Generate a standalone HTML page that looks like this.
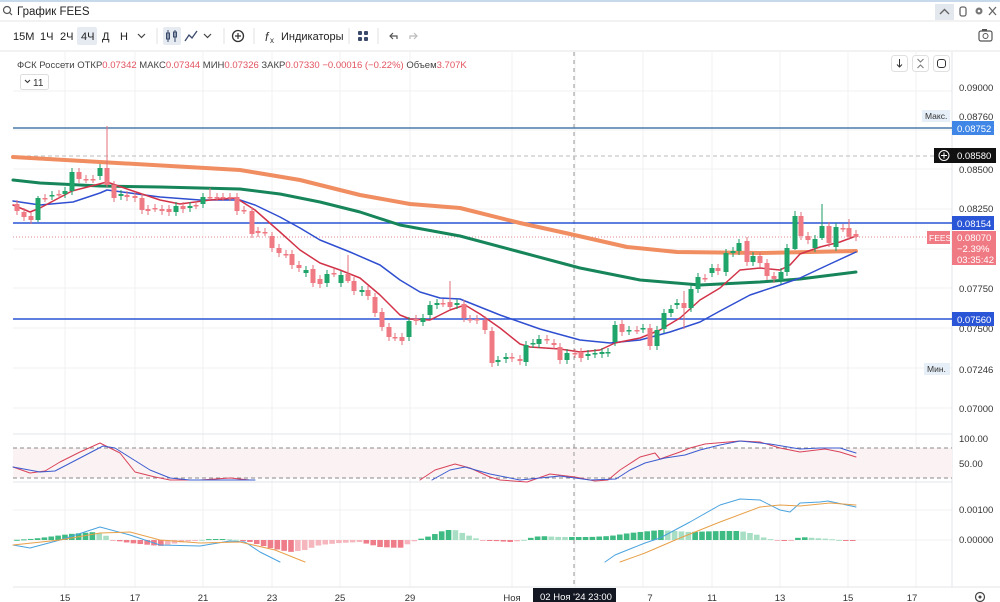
<!DOCTYPE html>
<html><head><meta charset="utf-8">
<style>
body{margin:0;width:1000px;height:602px;overflow:hidden;background:#fff;font-family:"Liberation Sans","DejaVu Sans",sans-serif;}
svg{position:absolute;left:0;top:0}
</style></head><body>
<svg id="s" width="1000" height="602" viewBox="0 0 1000 602" xmlns="http://www.w3.org/2000/svg" font-family="Liberation Sans, DejaVu Sans, sans-serif">
<rect width="1000" height="602" fill="#fff"/>
<rect x="0" y="0" width="1000" height="2" fill="#c9d9ec"/>
<line x1="0" y1="21" x2="1000" y2="21" stroke="#e6e6e6"/>
<circle cx="7" cy="10" r="3.5" fill="none" stroke="#555" stroke-width="1.2"/><line x1="9.5" y1="12.5" x2="12" y2="15" stroke="#555" stroke-width="1.2"/>
<text x="17" y="15" font-size="11.5" fill="#222">График FEES</text>
<rect x="935" y="4" width="19" height="16" fill="#e3e8ef"/>
<path d="M940 14 L944.5 9.5 L949 14" fill="none" stroke="#666" stroke-width="1.4"/>
<rect x="960" y="7" width="6" height="9" rx="2" fill="none" stroke="#666" stroke-width="1.3"/>
<circle cx="979" cy="11" r="3.5" fill="#777"/><circle cx="979" cy="11" r="1.3" fill="#fff"/>
<path d="M989 7 L996 15 M996 7 L989 15" stroke="#666" stroke-width="1.3"/>
<line x1="0" y1="51" x2="1000" y2="51" stroke="#e6e6e6"/>
<text x="13" y="40" font-size="11" fill="#222">15М</text>
<text x="40" y="40" font-size="11" fill="#222">1Ч</text>
<text x="60" y="40" font-size="11" fill="#222">2Ч</text>
<rect x="77" y="27" width="20" height="18" rx="2" fill="#e6ebf2"/>
<text x="81" y="40" font-size="11" fill="#222">4Ч</text>
<text x="102" y="40" font-size="11" fill="#222">Д</text>
<text x="120" y="40" font-size="11" fill="#222">Н</text>
<path d="M138 34 L141.5 37.5 L145 34" fill="none" stroke="#444" stroke-width="1.2"/>
<line x1="157" y1="28" x2="157" y2="44" stroke="#e2e2e2"/>
<rect x="163" y="27" width="18" height="18" rx="2" fill="#e6ebf2"/>
<path d="M168 30v12M175 30v12" stroke="#3a4a6a" stroke-width="1"/><rect x="166.5" y="33" width="3" height="6" fill="none" stroke="#3a4a6a"/><rect x="173.5" y="32" width="3" height="5" fill="none" stroke="#3a4a6a"/>
<path d="M185 41 L189 35 L192 38 L197 31" fill="none" stroke="#3a4a6a" stroke-width="1.3"/>
<path d="M204 34 L207.5 37.5 L211 34" fill="none" stroke="#444" stroke-width="1.2"/>
<line x1="224" y1="28" x2="224" y2="44" stroke="#e2e2e2"/>
<circle cx="238" cy="36" r="5.5" fill="none" stroke="#333" stroke-width="1.3"/><path d="M238 33v6M235 36h6" stroke="#333" stroke-width="1.2"/>
<line x1="254" y1="28" x2="254" y2="44" stroke="#e2e2e2"/>
<text x="265" y="41" font-size="12" font-style="italic" fill="#333">f</text><text x="270" y="43" font-size="8" fill="#333">x</text>
<text x="281" y="40" font-size="11" fill="#222">Индикаторы</text>
<line x1="349" y1="28" x2="349" y2="44" stroke="#e2e2e2"/>
<rect x="358" y="31" width="4" height="4" rx="1" fill="#3a4a6a"/><rect x="364" y="31" width="4" height="4" rx="1" fill="#3a4a6a"/><rect x="358" y="37" width="4" height="4" rx="1" fill="#3a4a6a"/><rect x="364" y="37" width="4" height="4" rx="1" fill="#3a4a6a"/>
<line x1="378" y1="28" x2="378" y2="44" stroke="#e2e2e2"/>
<path d="M397 39 V36 H390 M393 33 L390 36 L393 39" fill="none" stroke="#555" stroke-width="1.2"/>
<path d="M410 39 V36 H417 M414 33 L417 36 L414 39" fill="none" stroke="#bbb" stroke-width="1.2"/>
<rect x="979" y="31" width="13" height="10" rx="2" fill="none" stroke="#555" stroke-width="1.2"/><circle cx="985.5" cy="36" r="2.5" fill="none" stroke="#555"/><rect x="982" y="29" width="5" height="2" fill="#555"/>

<g id="grid" stroke="#f0f1f3" stroke-width="1"></g>
<line x1="13" y1="434" x2="952" y2="434" stroke="#e2e4e8"/>
<line x1="13" y1="482" x2="952" y2="482" stroke="#e2e4e8"/>
<line x1="13" y1="587" x2="1000" y2="587" stroke="#e2e4e8"/>
<line x1="952" y1="52" x2="952" y2="587" stroke="#e2e4e8"/>
<rect x="13" y="448" width="939" height="30" fill="#fbf3f3"/>
<line x1="13" y1="448" x2="952" y2="448" stroke="#888" stroke-dasharray="4,3"/>
<line x1="13" y1="478" x2="952" y2="478" stroke="#888" stroke-dasharray="4,3"/>
<line x1="574" y1="52" x2="574" y2="587" stroke="#999" stroke-dasharray="4,4"/>
<line x1="13" y1="128" x2="952" y2="128" stroke="#4a7bab" stroke-width="1.6"/>
<line x1="13" y1="156" x2="952" y2="156" stroke="#bbb" stroke-dasharray="4,3"/>
<line x1="13" y1="223" x2="952" y2="223" stroke="#2a55d6" stroke-width="1.6"/>
<line x1="13" y1="237" x2="952" y2="237" stroke="#e58a94" stroke-dasharray="1,2"/>
<line x1="13" y1="319" x2="952" y2="319" stroke="#2a55d6" stroke-width="1.6"/>
<g id="ma"></g>
<g id="candles"></g>
<g id="ind"></g>
<text x="17" y="68" font-size="9.5" fill="#444">ФСК Россети ОТКР<tspan fill="#e2535f">0.07342</tspan>  МАКС<tspan fill="#e2535f">0.07344</tspan>  МИН<tspan fill="#e2535f">0.07326</tspan>  ЗАКР<tspan fill="#e2535f">0.07330</tspan>  <tspan fill="#e2535f">−0.00016 (−0.22%)</tspan>  Объем<tspan fill="#e2535f">3.707K</tspan></text>
<rect x="20.5" y="74.5" width="28" height="15" rx="2" fill="#fff" stroke="#ddd"/>
<path d="M25 80 L27.5 82.5 L30 80" fill="none" stroke="#333" stroke-width="1.1"/>
<text x="33" y="86" font-size="10" fill="#333">11</text>
<g fill="#fff" stroke="#e0e0e0"><rect x="891.5" y="55.5" width="16" height="16" rx="3"/><rect x="912.5" y="55.5" width="16" height="16" rx="3"/><rect x="933.5" y="55.5" width="16" height="16" rx="3"/></g>
<path d="M899.5 59v8M897 64.5l2.5 2.5 2.5-2.5" fill="none" stroke="#333"/>
<path d="M917.5 59l3 3 3-3M917.5 68l3-3 3 3" fill="none" stroke="#777"/>
<rect x="937.5" y="59.5" width="8" height="8" rx="2.5" fill="none" stroke="#333"/>
<g font-size="9.5" fill="#333">
<text x="959" y="91">0.09000</text>
<text x="959" y="173">0.08500</text>
<text x="959" y="212">0.08250</text>
<text x="959" y="292">0.07750</text>
<text x="959" y="332">0.07500</text>
<text x="959" y="412">0.07000</text>
<text x="959" y="442">100.00</text>
<text x="959" y="467">50.00</text>
<text x="959" y="513">0.00100</text>
<text x="959" y="543">0.00000</text>
</g>
<rect x="922" y="110" width="28" height="12" fill="#e6eef8"/><text x="925" y="119" font-size="8.5" fill="#333">Макс.</text>
<text x="959" y="120" font-size="9.5" fill="#333">0.08760</text>
<rect x="952" y="121" width="42" height="14" fill="#3f86e6"/><text x="957" y="132" font-size="9.5" fill="#fff">0.08752</text>
<rect x="934" y="148" width="62" height="15" fill="#111"/><circle cx="944" cy="155.5" r="5" fill="none" stroke="#fff"/><path d="M944 152.5v6M941 155.5h6" stroke="#fff"/>
<text x="957" y="159" font-size="9.5" fill="#fff">0.08580</text>
<rect x="952" y="216" width="42" height="14" fill="#2a55d6"/><text x="957" y="227" font-size="9.5" fill="#fff">0.08154</text>
<rect x="927" y="231" width="23" height="13" fill="#f07a83"/><text x="929" y="241" font-size="8.5" fill="#fff">FEES</text>
<rect x="952" y="231" width="44" height="34" fill="#f07a83"/>
<text x="957" y="241" font-size="9.5" fill="#fff">0.08070</text>
<text x="957" y="252" font-size="9.5" fill="#fff">−2.39%</text>
<text x="957" y="263" font-size="9.5" fill="#fff">03:35:42</text>
<rect x="952" y="312" width="42" height="14" fill="#2a55d6"/><text x="957" y="323" font-size="9.5" fill="#fff">0.07560</text>
<rect x="924" y="363" width="26" height="12" fill="#e6eef8"/><text x="927" y="372" font-size="8.5" fill="#333">Мин.</text>
<text x="959" y="373" font-size="9.5" fill="#333">0.07246</text>
<g font-size="9.5" fill="#333" text-anchor="middle">
<text x="65" y="601">15</text><text x="135" y="601">17</text><text x="203" y="601">21</text><text x="272" y="601">23</text><text x="340" y="601">25</text><text x="410" y="601">29</text><text x="512" y="601">Ноя</text><text x="650" y="601">7</text><text x="712" y="601">11</text><text x="780" y="601">13</text><text x="848" y="601">15</text><text x="912" y="601">17</text>
</g>
<rect x="533" y="588" width="83" height="14" fill="#131722"/>
<text x="540" y="600" font-size="9.5" fill="#fff">02 Ноя '24   23:00</text>
<circle cx="980" cy="597" r="4.5" fill="none" stroke="#444" stroke-width="1.2"/><circle cx="980" cy="597" r="1.5" fill="#444"/>
</svg>
<script>
(function(){
var NS="http://www.w3.org/2000/svg";
function el(p,t,a){var e=document.createElementNS(NS,t);for(var k in a)e.setAttribute(k,a[k]);document.getElementById(p).appendChild(e);return e;}
[65,135,203,272,340,410,512,575,643,712,780,848,916].forEach(function(x){el('grid','line',{x1:x,y1:52,x2:x,y2:587});});
[91,130,169,209,249,288,328,368,408,463,510,540].forEach(function(y){el('grid','line',{x1:13,y1:y,x2:952,y2:y});});
function pl(g,pts,col,w){el(g,'polyline',{points:pts.map(function(p){return p.join(',')}).join(' '),fill:'none',stroke:col,'stroke-width':w,'stroke-linejoin':'round','stroke-linecap':'round'});}
pl('ma',[[13,157],[100,162],[240,170],[300,180],[360,195],[410,204],[460,208],[520,223],[570,234],[627,247],[677,252],[760,253],[856,251]],'#f08e62',4);
pl('ma',[[13,180],[40,183],[100,186],[160,187],[240,189],[280,194],[320,202],[360,212],[400,225],[460,236],[520,252],[580,268],[640,280],[700,285],[760,282],[800,279],[856,272]],'#17855a',3);
pl('ma',[[13,201],[40,205],[73,202],[100,193],[107,190],[130,193],[160,197],[200,200],[240,200],[255,205],[280,217],[300,228],[320,240],[350,252],[380,265],[400,280],[420,292],[440,298],[460,299],[500,315],[540,329],[580,340],[610,343],[640,340],[670,332],[700,322],[720,311],[750,295],[780,285],[800,278],[830,264],[856,252]],'#2f4fd0',1.5);
pl('ma',[[13,205],[30,212],[40,208],[72,191],[107,182],[130,190],[160,200],[180,204],[210,200],[236,198],[255,210],[280,232],[300,250],[320,263],[340,270],[360,278],[380,295],[400,315],[410,319],[430,320],[450,310],[465,305],[480,314],[500,328],[520,344],[530,347],[560,349],[580,352],[600,350],[615,343],[640,338],[660,330],[680,318],[700,300],[720,288],[740,270],[760,268],[780,270],[790,265],[800,254],[820,247],[840,242],[856,236]],'#d23248',1.5);
var C=[[17,204,211],[24,212,217],[31,216,220],[38,220,198,196,222],[45,198,198],[52,196,195],[59,194,194],[65,194,191],[72,191,172],[79,172,179],[86,179,179],[93,179,179],[100,176,168],[107,168,185,126,187],[114,185,198],[121,196,194],[127,195,197],[135,196,198],[142,198,210],[148,209,211],[155,208,208],[162,209,211],[169,209,212],[176,212,206],[183,206,209],[190,208,206],[196,205,205],[203,204,197],[210,197,197,188,200],[217,197,197],[223,197,197],[230,197,197],[237,197,211],[244,210,210],[252,211,234],[258,231,233],[265,232,232],[272,236,248],[279,248,253],[286,254,254],[292,254,265],[299,265,268],[306,273,270],[313,269,283],[320,279,284],[327,283,274],[334,273,273],[341,283,275],[348,274,281,255,283],[354,281,291],[362,292,290],[368,290,296],[375,297,313],[382,312,327],[389,327,337],[395,337,337],[402,337,341],[409,337,321],[416,319,321],[423,322,318],[430,315,305],[437,305,303],[443,303,303],[450,302,307,281,309],[457,305,303],[464,304,318],[470,319,319],[477,319,320],[485,320,330],[492,331,363],[498,362,360],[506,359,357],[512,357,358],[520,359,361],[526,362,345],[533,344,343],[539,344,339],[547,339,340],[554,343,345],[560,347,360],[567,360,353],[575,353,354],[581,352,358],[588,356,354],[595,354,353],[602,354,352],[608,353,352],[615,342,325],[622,324,332],[629,331,330],[637,330,330],[643,329,328],[650,328,346],[657,346,330],[664,329,313],[671,313,309],[677,305,303],[684,303,308,291,329],[691,308,289],[698,289,277],[705,278,278],[712,273,268],[718,268,271],[726,272,253],[733,253,251],[739,251,243],[747,241,262],[753,262,256],[760,256,263],[767,263,276],[774,276,279],[781,280,272],[787,272,248],[795,249,216,211,250],[801,216,236],[808,236,240],[815,248,239],[822,238,226,204,240],[829,226,243],[836,247,227],[843,228,228],[849,228,237,219,240],[856,234,237]];
C.forEach(function(c){var x=c[0],o=c[1],cl=c[2];var up=cl<o;var col=up?'#1fa46a':'#f07a83';var t=Math.min(o,cl),b=Math.max(o,cl);var h=c[3]||t-4,l=c[4]||b+4;
el('candles','line',{x1:x,y1:h,x2:x,y2:l,stroke:up?'#1a9a62':'#e0707a','stroke-width':1});
el('candles','rect',{x:x-2.5,y:t,width:5,height:Math.max(b-t,1.5),fill:col});});
pl('ind',[[13,467],[30,473],[45,471],[60,462],[80,452],[100,443],[120,453],[135,472],[155,477],[170,480],[200,480],[230,478],[250,480]],'#d9435a',1);
pl('ind',[[13,467],[40,472],[55,471],[80,458],[103,446],[115,448],[150,470],[170,478],[190,480],[255,480]],'#3b5bd0',1);
pl('ind',[[420,480],[435,470],[455,464],[470,468],[490,477],[500,480],[527,482],[550,474],[575,477],[595,481],[608,480],[620,470],[640,457],[655,453],[660,459],[680,452],[690,448],[705,444],[740,441],[760,442],[780,448],[800,452],[825,449],[840,452],[856,457]],'#d9435a',1);
pl('ind',[[432,480],[450,470],[465,467],[490,474],[520,480],[540,478],[560,476],[590,480],[616,479],[630,470],[645,463],[665,458],[685,455],[700,450],[720,445],[740,441],[770,444],[800,449],[820,448],[840,448],[856,453]],'#3b5bd0',1);
var H=[[13,0],[30,-1],[40,-2],[70,-6],[95,-8],[105,-5],[112,0],[130,3],[160,6],[190,1],[200,0],[210,-1],[225,-1],[240,0],[250,2],[270,8],[290,12],[305,10],[320,5],[340,3],[360,2],[380,7],[400,8],[410,3],[420,-1],[430,-4],[445,-10],[455,-10],[470,-4],[480,0],[495,1],[510,2],[520,1],[530,-2],[540,-4],[560,-3],[590,-3],[610,-4],[630,-7],[660,-10],[690,-8],[720,-9],[740,-9],[755,-6],[765,-2],[775,0],[780,1],[790,1],[800,-3],[815,-2],[830,-1],[840,0],[850,1],[856,1]];
function hv(x){for(var i=0;i<H.length-1;i++){if(x>=H[i][0]&&x<=H[i+1][0]){var t=(x-H[i][0])/(H[i+1][0]-H[i][0]);return H[i][1]+t*(H[i+1][1]-H[i][1]);}}return 0;}
var prev=0;for(var x=17;x<=856;x+=6.85){var v=hv(x);var grow=Math.abs(v)>=Math.abs(prev);var g=v<0;var col=g?(grow?'#3dbb83':'#a8dfc4'):(grow?'#ee7d89':'#f6b6bd');var yy=Math.min(540,540+v),hh=Math.max(Math.abs(v),1);el('ind','rect',{x:x-2.8,y:yy,width:5.6,height:hh,fill:col});prev=v;}
pl('ind',[[13,545],[30,548],[60,540],[100,527],[130,535],[160,545],[200,546],[230,541],[245,542],[260,552],[280,562]],'#4aa3df',1);
pl('ind',[[13,545],[60,540],[100,533],[130,532],[160,540],[200,543],[240,542],[275,550],[305,562]],'#e8a14a',1);
pl('ind',[[605,562],[615,555],[645,543],[660,538],[690,522],[720,505],[740,499],[760,500],[780,510],[790,512],[800,503],[820,502],[828,501],[856,507]],'#4aa3df',1);
pl('ind',[[620,562],[645,553],[680,538],[720,522],[760,507],[780,505],[800,506],[830,503],[856,505]],'#e8a14a',1);
})();
</script>
</body></html>
